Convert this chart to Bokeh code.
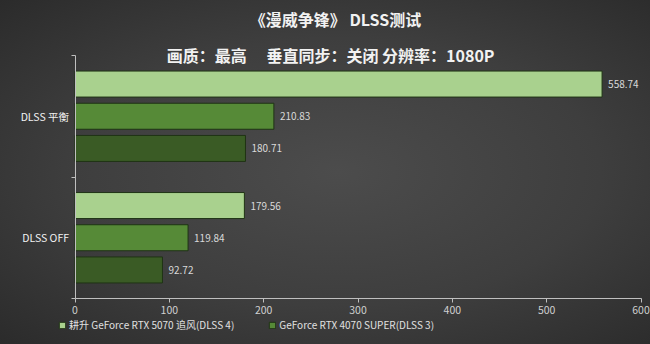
import numpy as np
from bokeh.plotting import figure
from bokeh.models import Range1d, FixedTicker, Label, Legend, LegendItem, ColumnDataSource
from bokeh.core.properties import value
from bokeh.embed import file_html
from bokeh.resources import INLINE

# ---- data ----
categories = ["DLSS 平衡", "DLSS OFF"]
series_names = ["耕升 GeForce RTX 5070 追风(DLSS 4)", "GeForce RTX 4070 SUPER(DLSS 3)"]
series_a = [558.74, 179.56]
series_b = [210.83, 119.84]
series_c = [180.71, 92.72]
x_ticks = [0, 100, 200, 300, 400, 500, 600]
title_text = "《漫威争锋》 DLSS测试"
subtitle_text = "画质：最高　 垂直同步：关闭  分辨率：1080P"

FONT = "Noto Sans CJK SC"
colors = ["#a9d18e", "#568a37", "#3a5b25"]
offsets = [0.265, 0.0, -0.265]
bar_h = 0.214

n = len(categories)
cat_pos = [n - i - 0.5 for i in range(n)]

# canvas geometry: the frame covers the full canvas; axes drawn at fixed locations
W, H = 650, 344
x0_px, xmax_px, xmax_val = 74.5, 640.5, 600.0       # x=0 and x=600 on canvas
y0_px, ytop_px = 298.0, 55.0                          # y=0 and y=n on canvas (from top)
sx = (xmax_px - x0_px) / xmax_val
sy = (y0_px - ytop_px) / n

p = figure(width=W, height=H, output_backend="svg", toolbar_location=None,
           x_range=Range1d(-x0_px / sx, xmax_val + (W - xmax_px) / sx),
           y_range=Range1d(-(H - y0_px) / sy, n + ytop_px / sy),
           min_border=0, min_border_left=0, min_border_right=0,
           min_border_top=0, min_border_bottom=0)
p.styles = {"background": "radial-gradient(ellipse at 52% 50%, #4c4c4c 0%, #3e3e3e 55%, #2b2b2b 100%)"}
p.border_fill_alpha = 0
p.background_fill_alpha = 0
p.outline_line_color = None
p.xgrid.visible = False
p.ygrid.visible = False

renderers = []
for vals, col, off in zip([series_a, series_b, series_c], colors, offsets):
    src = ColumnDataSource(dict(y=[c + off for c in cat_pos], v=vals,
                                t=[f"{v:.2f}" for v in vals]))
    r = p.hbar(y="y", left=0, right="v", height=bar_h, source=src,
               fill_color=col, line_color="#1f3314", line_width=1)
    renderers.append(r)
    p.text(x="v", y="y", text="t", source=src, x_offset=6, text_baseline="middle",
           text_align="left", text_font=value(FONT), text_font_size="10px",
           text_color="#d9d9d9")

# axes
ax = p.xaxis[0]
ax.fixed_location = 0
ax.ticker = FixedTicker(ticks=x_ticks)
ax.bounds = (0, 600)
ax.axis_line_color = "#bfbfbf"
ax.major_tick_line_color = "#bfbfbf"
ax.major_tick_out = 4
ax.major_tick_in = 0
ax.minor_tick_line_color = None
ax.major_label_text_font = FONT
ax.major_label_text_font_size = "10.5px"
ax.major_label_text_color = "#d0d0d0"
ax.major_label_standoff = 3

ay = p.yaxis[0]
ay.fixed_location = 0
ay.ticker = FixedTicker(ticks=cat_pos, minor_ticks=list(range(n + 1)))
ay.bounds = (0, n)
ay.major_label_overrides = {pos: cat for pos, cat in zip(cat_pos, categories)}
ay.axis_line_color = "#bfbfbf"
ay.major_tick_line_color = None
ay.major_tick_out = 0
ay.major_tick_in = 0
ay.minor_tick_line_color = "#bfbfbf"
ay.minor_tick_out = 4
ay.minor_tick_in = 0
ay.major_label_text_font = FONT
ay.major_label_text_font_size = "10.5px"
ay.major_label_text_color = "#f2f2f2"
ay.major_label_standoff = 2

# titles (screen units = canvas px from bottom-left, since the frame fills the canvas)
p.add_layout(Label(x=335, y=H - 18, x_units="screen", y_units="screen", text=title_text,
                   text_align="center", text_baseline="middle", text_font=FONT,
                   text_font_size="16px", text_font_style="bold", text_color="#f2f2f2"))
p.add_layout(Label(x=332, y=H - 54, x_units="screen", y_units="screen", text=subtitle_text,
                   text_align="center", text_baseline="middle", text_font=FONT,
                   text_font_size="16px", text_font_style="bold", text_color="#f2f2f2"))

legend = Legend(items=[LegendItem(label=series_names[i], renderers=[renderers[i]]) for i in range(2)],
                orientation="horizontal", location=(58, 12),
                label_text_font=FONT, label_text_font_size="10px", label_text_color="#e0e0e0",
                glyph_width=8, glyph_height=8, label_standoff=3, spacing=34,
                padding=0, margin=0, label_height=14,
                border_line_alpha=0, background_fill_alpha=0)
p.add_layout(legend, "center")

open("out.html", "w").write(file_html(p, INLINE))
